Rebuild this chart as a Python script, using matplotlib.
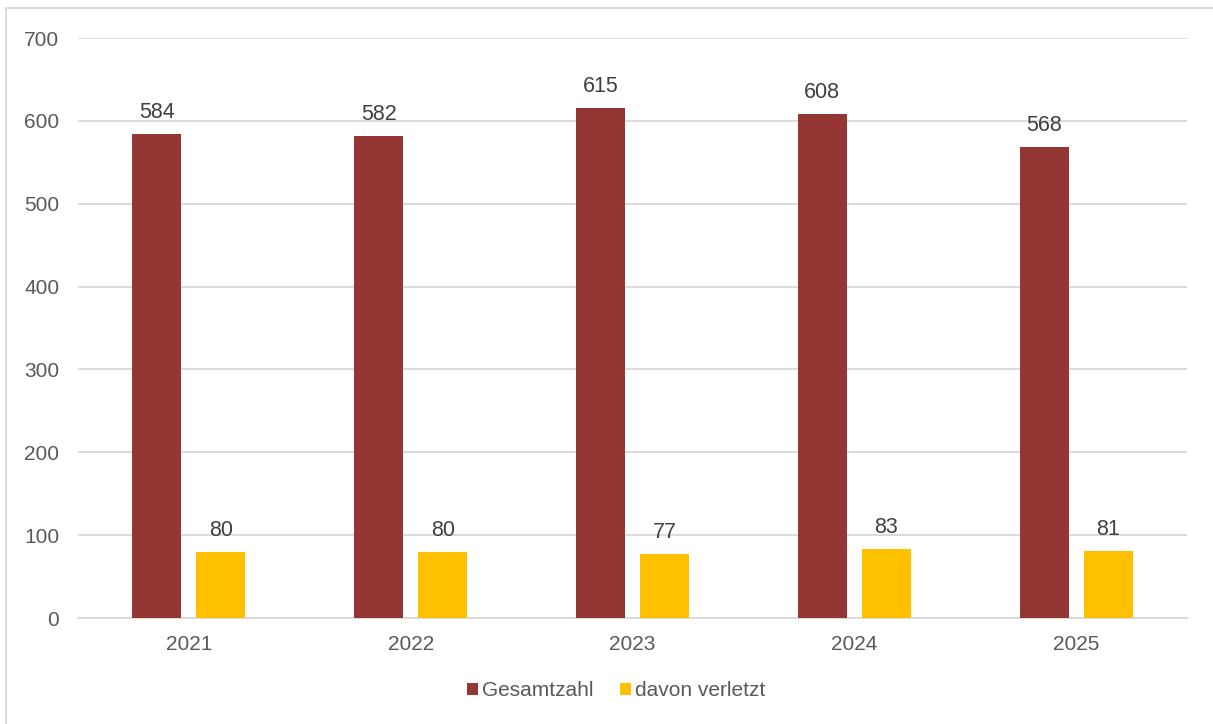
import matplotlib

matplotlib.use("Agg")

import matplotlib.pyplot as plt
import numpy as np
from matplotlib.patches import Rectangle

years = ["2021", "2022", "2023", "2024", "2025"]
gesamtzahl = [584, 582, 615, 608, 568]
verletzt = [80, 80, 77, 83, 81]
y_ticks = [0, 100, 200, 300, 400, 500, 600, 700]

RED = "#943634"
YELLOW = "#FFC000"
GRID = "#d9d9d9"
TEXT = "#595959"
LABEL = "#404040"
FS = 15

plt.rcParams["font.family"] = ["Liberation Sans", "DejaVu Sans"]

fig = plt.figure(figsize=(12.13, 7.24), dpi=100)
ax = fig.add_axes([0.0643, 0.1464, 0.9143, 0.8011])

x = np.arange(len(years))
width = 0.221
offset = 0.1443

bars_total = ax.bar(x - offset, gesamtzahl, width, color=RED, label="Gesamtzahl", zorder=3)
bars_hurt = ax.bar(x + offset, verletzt, width, color=YELLOW, label="davon verletzt", zorder=3)

for bars in (bars_total, bars_hurt):
    for bar in bars:
        h = bar.get_height()
        ax.annotate(f"{h:.0f}", (bar.get_x() + bar.get_width() / 2, h),
                    xytext=(0, 8), textcoords="offset points",
                    ha="center", va="bottom", fontsize=15.5, color=LABEL)

ax.set_xlim(-0.5, len(years) - 0.5)
ax.set_ylim(0, 700)
ax.set_yticks(y_ticks)
ax.set_xticks(x, years)
ax.yaxis.grid(True, color=GRID, linewidth=1.3, zorder=0)
ax.set_axisbelow(True)
for name, spine in ax.spines.items():
    if name == "bottom":
        spine.set_color(GRID)
        spine.set_linewidth(1.3)
    else:
        spine.set_visible(False)
ax.tick_params(axis="both", length=0, labelsize=FS, colors=TEXT)
ax.tick_params(axis="x", pad=12)
ax.tick_params(axis="y", pad=13.5)

fig.legend(loc="center", bbox_to_anchor=(0.508, 0.046), ncol=2, frameon=False,
           fontsize=FS, labelcolor=TEXT, handlelength=0.53, handleheight=0.53,
           handletextpad=0.2, columnspacing=1.25)

fig.patches.append(Rectangle((6 / 1213, -0.01), 1.02, 1 - 8 / 724 + 0.01,
                             transform=fig.transFigure, fill=False,
                             edgecolor=GRID, linewidth=1.3))

fig.savefig("out.png", dpi=100)
